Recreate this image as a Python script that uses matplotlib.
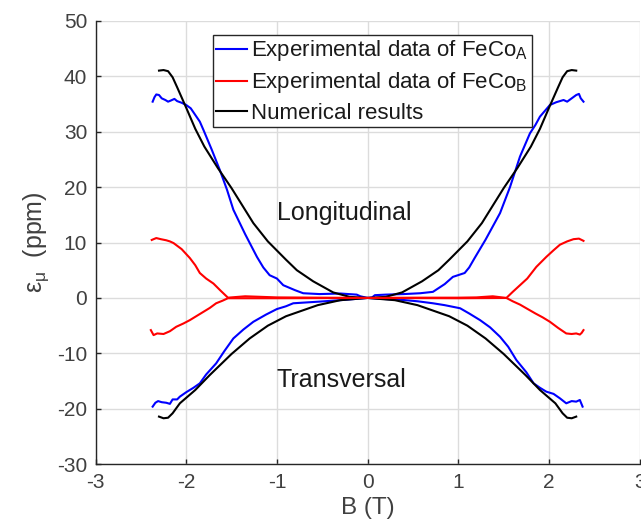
import matplotlib
matplotlib.use("Agg")
import matplotlib.pyplot as plt
import numpy as np

plt.rcParams['font.family'] = ['Liberation Sans', 'DejaVu Sans']
plt.rcParams['mathtext.fontset'] = 'custom'
plt.rcParams['mathtext.rm'] = 'Liberation Sans'
plt.rcParams['mathtext.it'] = 'Liberation Sans'
plt.rcParams['mathtext.bf'] = 'Liberation Sans:bold'
plt.rcParams['mathtext.fallback'] = 'stixsans'
plt.rcParams['axes.unicode_minus'] = False

# ---- data ----
num_long_x = [-2.30, -2.25, -2.20, -2.15, -2.10, -2.00, -1.90, -1.80, -1.65, -1.50, -1.26, -1.10, -0.90, -0.78, -0.60, -0.38, -0.20, 0.00,
              0.20, 0.38, 0.60, 0.78, 0.90, 1.10, 1.26, 1.50, 1.65, 1.80, 1.90, 2.00, 2.10, 2.15, 2.20, 2.25, 2.30]
num_long_y = [41.0, 41.1, 40.9, 39.8, 38.0, 34.3, 30.5, 27.3, 23.4, 19.8, 13.5, 10.2, 6.9, 5.0, 3.0, 1.0, 0.2, 0.0,
              0.2, 1.0, 3.0, 5.0, 6.9, 10.2, 13.5, 19.8, 23.4, 27.3, 30.5, 34.3, 38.0, 39.8, 40.9, 41.1, 41.0]

num_tran_x = [-2.30, -2.25, -2.20, -2.15, -2.07, -1.90, -1.74, -1.50, -1.30, -1.10, -0.90, -0.55, -0.30, 0.00,
              0.30, 0.55, 0.90, 1.10, 1.30, 1.50, 1.74, 1.90, 2.07, 2.15, 2.20, 2.25, 2.30]
num_tran_y = [-21.4, -21.7, -21.6, -20.8, -19.0, -16.6, -13.9, -10.1, -7.3, -5.0, -3.3, -1.3, -0.4, 0.0,
              -0.4, -1.3, -3.3, -5.0, -7.3, -10.1, -13.9, -16.6, -19.0, -20.8, -21.6, -21.7, -21.4]

a_long_x = [-2.37, -2.35, -2.33, -2.30, -2.27, -2.23, -2.20, -2.17, -2.13, -2.10, -2.05, -2.00, -1.95, -1.90, -1.85, -1.81,
            -1.72, -1.63, -1.55, -1.48, -1.35, -1.22, -1.15, -1.08, -1.00, -0.93, -0.80, -0.71, -0.53, -0.30, -0.12, -0.08, 0.00,
            0.05, 0.08, 0.20, 0.40, 0.58, 0.72, 0.85, 0.94, 1.07, 1.12, 1.18, 1.30, 1.46, 1.57, 1.68, 1.79, 1.85, 1.90,
            2.01, 2.08, 2.16, 2.20, 2.25, 2.30, 2.33, 2.35, 2.38]
a_long_y = [35.4, 36.2, 36.7, 36.6, 36.0, 35.7, 35.4, 35.6, 35.9, 35.5, 35.2, 34.8, 34.2, 33.0, 31.8, 30.3,
            26.8, 23.1, 19.5, 15.9, 11.5, 7.4, 5.5, 4.1, 3.5, 2.3, 1.4, 0.85, 0.7, 0.8, 0.6, 0.3, 0.0,
            0.1, 0.5, 0.6, 0.7, 0.85, 1.1, 2.5, 3.8, 4.5, 5.5, 7.2, 10.5, 15.3, 20.0, 25.5, 29.7, 31.2, 32.7,
            34.8, 35.3, 35.7, 35.4, 36.0, 36.6, 36.8, 36.0, 35.4]

a_tran_x = [-2.37, -2.34, -2.31, -2.27, -2.22, -2.18, -2.15, -2.10, -2.07, -2.00, -1.92, -1.85, -1.78, -1.67, -1.58, -1.48,
            -1.37, -1.26, -1.12, -1.00, -0.90, -0.82, -0.53, -0.30, 0.00,
            0.20, 0.39, 0.55, 0.72, 0.85, 1.02, 1.12, 1.24, 1.35, 1.46, 1.55, 1.64, 1.75, 1.83, 1.90, 1.97,
            2.05, 2.12, 2.19, 2.25, 2.30, 2.34, 2.37]
a_tran_y = [-19.6, -18.9, -18.6, -18.8, -18.9, -19.1, -18.3, -18.3, -17.8, -17.0, -16.2, -15.4, -13.8, -11.8, -9.6, -7.3,
            -5.7, -4.3, -3.0, -2.0, -1.5, -0.96, -0.66, -0.4, 0.0,
            -0.2, -0.36, -0.6, -0.96, -1.3, -1.86, -2.8, -4.0, -5.3, -7.0, -8.8, -11.2, -13.4, -15.4, -16.2, -16.9,
            -17.3, -18.1, -19.0, -18.6, -18.7, -18.4, -19.6]

b_long_x = [-2.38, -2.36, -2.33, -2.28, -2.22, -2.18, -2.14, -2.05, -1.96, -1.90, -1.85, -1.78, -1.70, -1.62, -1.54,
            -1.35, -1.00, -0.50, 0.00, 0.50, 1.00, 1.20, 1.38, 1.53,
            1.60, 1.68, 1.76, 1.86, 1.97, 2.05, 2.12, 2.20, 2.27, 2.33, 2.38]
b_long_y = [10.46, 10.6, 10.8, 10.6, 10.4, 10.2, 9.9, 8.8, 7.2, 5.9, 4.5, 3.5, 2.6, 1.3, 0.05,
            0.3, 0.1, 0.05, 0.0, 0.05, 0.05, 0.1, 0.3, 0.0,
            1.1, 2.3, 3.5, 5.6, 7.4, 8.6, 9.6, 10.2, 10.6, 10.7, 10.3]

b_tran_x = [-2.39, -2.36, -2.32, -2.25, -2.18, -2.11, -2.03, -1.96, -1.88, -1.81, -1.74, -1.67, -1.60, -1.54,
            -1.00, 0.00, 1.00, 1.53,
            1.60, 1.68, 1.75, 1.85, 1.93, 2.01, 2.10, 2.19, 2.25, 2.30, 2.34, 2.36, 2.38]
b_tran_y = [-5.8, -6.7, -6.4, -6.5, -6.0, -5.2, -4.6, -4.0, -3.2, -2.5, -1.8, -0.96, -0.5, -0.05,
            -0.05, 0.0, -0.05, 0.0,
            -0.6, -1.2, -1.86, -2.8, -3.5, -4.3, -5.4, -6.4, -6.5, -6.4, -6.6, -6.3, -5.8]

x_ticks = [-3, -2, -1, 0, 1, 2, 3]
y_ticks = [-30, -20, -10, 0, 10, 20, 30, 40, 50]

legend_labels = ['Experimental data of FeCo$_\\mathregular{A}$',
                 'Experimental data of FeCo$_\\mathregular{B}$',
                 'Numerical results']

# ---- figure ----
fig = plt.figure(figsize=(6.41, 5.19), dpi=100)
ax = fig.add_axes([0.149, 0.1054, 0.849, 0.8547])

lw = 1.5
hA, = ax.plot(a_long_x, a_long_y, color=(0, 0, 1), lw=lw)
ax.plot(a_tran_x, a_tran_y, color=(0, 0, 1), lw=lw)
hN, = ax.plot(num_long_x, num_long_y, color='k', lw=lw)
ax.plot(num_tran_x, num_tran_y, color='k', lw=lw)
hB, = ax.plot(b_long_x, b_long_y, color=(1, 0, 0), lw=lw)
ax.plot(b_tran_x, b_tran_y, color=(1, 0, 0), lw=lw)

ax.set_xlim(-3, 3)
ax.set_ylim(-30, 50)
ax.set_xticks(x_ticks)
ax.set_yticks(y_ticks)
ax.grid(True, color='#dcdcdc', lw=1.0)
ax.set_axisbelow(True)
for s in ['top', 'right']:
    ax.spines[s].set_visible(False)
for s in ['left', 'bottom']:
    ax.spines[s].set_color('#262626')
    ax.spines[s].set_linewidth(1.0)
ax.tick_params(direction='in', length=3.5, width=1.0, colors='#262626',
               labelcolor='#404040', labelsize=15, pad=6)

ax.set_xlabel('B (T)', fontsize=17.5, color='#404040', labelpad=4)
ax.set_ylabel('$\\epsilon_{\\mu}$  (ppm)', fontsize=18, color='#404040', labelpad=4)

ax.text(-1.0, 15.3, 'Longitudinal', fontsize=18, color='#1a1a1a', va='center', ha='left')
ax.text(-1.0, -14.8, 'Transversal', fontsize=18, color='#1a1a1a', va='center', ha='left')

leg = ax.legend([hA, hB, hN], legend_labels, loc='upper left',
                bbox_to_anchor=(0.2154, 0.9678), borderaxespad=0,
                fontsize=16, frameon=True, fancybox=False, framealpha=1,
                edgecolor='#262626', handlelength=1.4, handletextpad=0.18,
                borderpad=0.15, labelspacing=0.32)
leg.get_frame().set_linewidth(1.0)
for t in leg.get_texts():
    t.set_color('#1a1a1a')

fig.savefig('out.png', dpi=100)
